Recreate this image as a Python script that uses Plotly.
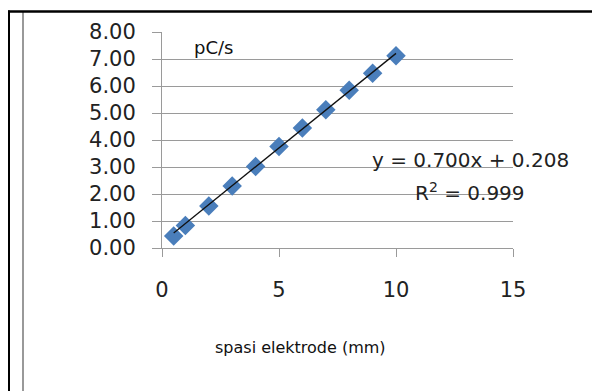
import plotly.graph_objects as go

# data
spasi_mm = [0.5, 1, 2, 3, 4, 5, 6, 7, 8, 9, 10]
arus_pcs = [0.44, 0.83, 1.56, 2.30, 3.02, 3.76, 4.44, 5.12, 5.84, 6.47, 7.12]

# trendline as printed on the chart
slope = 0.700
intercept = 0.208
r_squared = 0.999

y_ticks = [0, 1, 2, 3, 4, 5, 6, 7, 8]
x_ticks = [0, 5, 10, 15]

FONT = "DejaVu Sans"
GRID = "#9a9a9a"

# the page body adds an 8px margin around the figure
OFF = 8
# plot area in page pixels (600 x 391 window)
L, R, T, B = 162, 513, 26, 248
W, H = 600, 391


def px(x):
    return (x - L) / (R - L)


def py(y):
    return (B - y) / (B - T)


trend_x = [spasi_mm[0], spasi_mm[-1]]
trend_y = [slope * v + intercept for v in trend_x]

fig = go.Figure()
fig.add_trace(
    go.Scatter(
        x=spasi_mm,
        y=arus_pcs,
        mode="markers",
        marker={"symbol": "diamond", "size": 15, "color": "#4a7ebb"},
        showlegend=False,
    )
)
fig.add_trace(
    go.Scatter(
        x=trend_x,
        y=trend_y,
        mode="lines",
        line={"color": "#111111", "width": 1.3},
        showlegend=False,
    )
)

fig.update_xaxes(
    range=[0, 15],
    tickvals=x_ticks,
    showgrid=False,
    zeroline=False,
    showline=True,
    linecolor=GRID,
    ticks="outside",
    ticklen=8,
    tickcolor=GRID,
    ticklabelstandoff=15,
    tickfont={"family": FONT, "size": 21, "color": "#222"},
)
fig.update_yaxes(
    range=[0, 8],
    tickvals=y_ticks,
    tickformat=".2f",
    showgrid=True,
    gridcolor=GRID,
    zeroline=False,
    showline=True,
    linecolor=GRID,
    ticks="outside",
    ticklen=9,
    tickcolor=GRID,
    ticklabelstandoff=12,
    tickfont={"family": FONT, "size": 21, "color": "#222"},
)

annot_font = {"family": FONT, "size": 20, "color": "#222"}
fig.add_annotation(
    x=px(192), y=py(42), xref="paper", yref="paper",
    text="pC/s", showarrow=False, xanchor="left", yanchor="middle",
    font={"family": FONT, "size": 18, "color": "#111"},
)
fig.add_annotation(
    x=px(470), y=py(158), xref="paper", yref="paper",
    text=f"y = {slope:.3f}x + {intercept:.3f}", showarrow=False,
    xanchor="center", yanchor="middle", font=annot_font,
)
fig.add_annotation(
    x=px(470), y=py(190), xref="paper", yref="paper",
    text=f"R<sup>2</sup> = {r_squared:.3f}", showarrow=False,
    xanchor="center", yanchor="middle", font=annot_font,
)
fig.add_annotation(
    x=px(300), y=py(350), xref="paper", yref="paper",
    text="spasi elektrode (mm)", showarrow=False,
    xanchor="center", yanchor="middle",
    font={"family": FONT, "size": 16, "color": "#111"},
)

# frame around the chart
fig.add_shape(type="line", xref="paper", yref="paper",
              x0=px(8.5), x1=px(8.5), y0=py(4), y1=py(395),
              line={"color": "black", "width": 3})
fig.add_shape(type="line", xref="paper", yref="paper",
              x0=px(23), x1=px(23), y0=py(5), y1=py(395),
              line={"color": "#999999", "width": 2})
fig.add_shape(type="line", xref="paper", yref="paper",
              x0=px(7), x1=px(596), y0=py(5), y1=py(5),
              line={"color": "black", "width": 2.5})
fig.add_shape(type="line", xref="paper", yref="paper",
              x0=px(594.5), x1=px(594.5), y0=py(4), y1=py(395),
              line={"color": "black", "width": 2.5})

fig.update_layout(
    width=W,
    height=H,
    margin={"l": L - OFF, "r": W - R + OFF, "t": T - OFF, "b": H - B + OFF},
    plot_bgcolor="white",
    paper_bgcolor="white",
    font={"family": FONT},
)

fig.write_html("out.html")
